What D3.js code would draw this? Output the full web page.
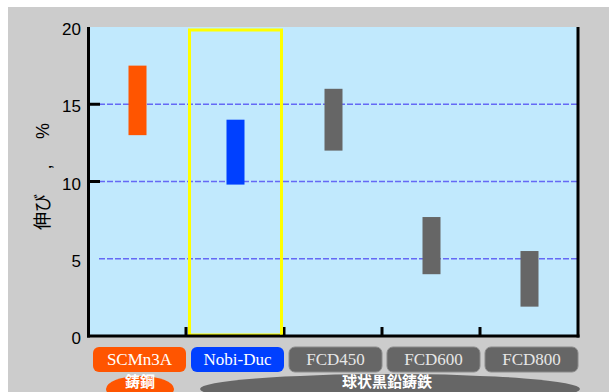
<!DOCTYPE html>
<html><head><meta charset="utf-8">
<script src="https://cdn.jsdelivr.net/npm/d3@7"></script>
<style>body{margin:0;background:#fff;}svg{display:block;}</style>
</head><body>
<svg id="c" width="609" height="392"></svg>
<script>
const categories = ["SCMn3A","Nobi-Duc","FCD450","FCD600","FCD800"];
const lowValues  = [13, 9.8, 12, 4, 1.9];
const highValues = [17.5, 14, 16, 7.7, 5.5];
const barColors  = ["#ff5500","#0040ff","#666666","#666666","#666666"];
const yTicks = [0,5,10,15,20];
const gridValues = [5,10,15];
const leftTickValues = [10,15];
const groupLabels = ["鋳鋼","球状黒鉛鋳鉄"];
const yTitleParts = ["伸び", ",", "%"];

const svg = d3.select("#c");
svg.append("rect").attr("x",8).attr("y",7).attr("width",601).attr("height",385).attr("fill","#cccccc");

const x = d3.scaleBand().domain(categories).range([88,578]).padding(0);
const y = d3.scaleLinear().domain([0,20]).range([336,27]);

// plot background
svg.append("rect").attr("x",88).attr("y",y(20)).attr("width",490).attr("height",y(0)-y(20)).attr("fill","#c1e9fd");

// grid
svg.append("g").selectAll("line").data(gridValues).join("line")
  .attr("x1",99).attr("x2",578).attr("y1",d=>y(d)).attr("y2",d=>y(d))
  .attr("stroke","#5c5cf5").attr("stroke-width",1.6).attr("stroke-dasharray","6,2").attr("opacity",0.9);

// bars
svg.append("g").selectAll("rect").data(categories).join("rect")
  .attr("x",(d)=>x(d)+x.bandwidth()/2-8.5)
  .attr("width",18)
  .attr("y",(d,i)=>y(highValues[i]))
  .attr("height",(d,i)=>y(lowValues[i])-y(highValues[i]))
  .attr("fill",(d,i)=>barColors[i]);

// highlight box
svg.append("rect").attr("x",x("Nobi-Duc")+3.5).attr("y",y(20)+3)
  .attr("width",x.bandwidth()-6).attr("height",y(0)-y(20)-4)
  .attr("fill","none").attr("stroke","#ffff00").attr("stroke-width",3);

// axes lines
svg.append("line").attr("x1",88.5).attr("x2",88.5).attr("y1",y(20)).attr("y2",y(0)+1.5).attr("stroke","#000").attr("stroke-width",3);
svg.append("line").attr("x1",578).attr("x2",578).attr("y1",y(20)).attr("y2",y(0)+1.5).attr("stroke","#000").attr("stroke-width",3);
svg.append("line").attr("x1",87).attr("x2",579.5).attr("y1",y(0)).attr("y2",y(0)).attr("stroke","#000").attr("stroke-width",3);

// bottom ticks at band boundaries
svg.append("g").selectAll("line").data(categories.slice(1)).join("line")
  .attr("x1",d=>x(d)).attr("x2",d=>x(d)).attr("y1",y(0)).attr("y2",y(0)-9)
  .attr("stroke","#000").attr("stroke-width",3);
svg.append("line").attr("x1",x("FCD450")-2.5).attr("x2",x("FCD450")-2.5).attr("y1",y(0)-10).attr("y2",y(0)-1.5).attr("stroke","#ffff00").attr("stroke-width",3);

// left ticks
svg.append("g").selectAll("line").data(leftTickValues).join("line")
  .attr("x1",88).attr("x2",100).attr("y1",d=>y(d)).attr("y2",d=>y(d))
  .attr("stroke","#000").attr("stroke-width",3);

// y axis labels
const yAxis = d3.axisLeft(y).tickValues(yTicks).tickSize(0).tickPadding(7).tickFormat(d3.format("d"));
const ga = svg.append("g").attr("transform","translate(88,0)").call(yAxis);
ga.select(".domain").remove();
ga.selectAll("text").attr("font-family","Liberation Sans, Arial, sans-serif").attr("font-size",17).attr("fill","#000").attr("dy","0.45em");

// y title
const titleY = [212,167,131];
svg.append("g").selectAll("text").data(yTitleParts).join("text")
  .attr("transform",(d,i)=>`translate(${i===1?51:49},${titleY[i]}) rotate(-90)`)
  .attr("text-anchor","middle")
  .attr("font-family",(d,i)=>i===0?"Noto Sans CJK JP, sans-serif":"Liberation Sans, Arial, sans-serif")
  .attr("font-size",18).attr("fill","#000").text(d=>d);

// category label boxes
const lab = svg.append("g");
lab.selectAll("rect").data(categories).join("rect")
  .attr("x",d=>x(d)+5).attr("y",347).attr("width",93).attr("height",25).attr("rx",6)
  .attr("fill",(d,i)=>barColors[i]).attr("stroke",(d,i)=>i>1?"#8a8a8a":"none").attr("stroke-width",1);
lab.selectAll("text").data(categories).join("text")
  .attr("x",d=>x(d)+5+46.5).attr("y",365).attr("text-anchor","middle")
  .attr("font-family","Liberation Serif, Times New Roman, serif").attr("font-size",17)
  .attr("fill",(d,i)=>i>1?"#e6e6e6":"#ffffff").text(d=>d);

// group ellipses
const groups = [{cx:140,rx:34,ry:13,color:"#ff5500"},{cx:390,rx:190,ry:15,color:"#666666"}];
svg.append("g").selectAll("ellipse").data(groups).join("ellipse")
  .attr("cx",d=>d.cx).attr("cy",389).attr("rx",d=>d.rx).attr("ry",d=>d.ry).attr("fill",d=>d.color);
svg.append("g").selectAll("text").data(groupLabels).join("text")
  .attr("x",(d,i)=>i===0?140:387).attr("y",387).attr("text-anchor","middle")
  .attr("font-family","Noto Sans CJK JP, sans-serif").attr("font-weight","bold").attr("font-size",15)
  .attr("fill","#fff").text(d=>d);
</script>
</body></html>
